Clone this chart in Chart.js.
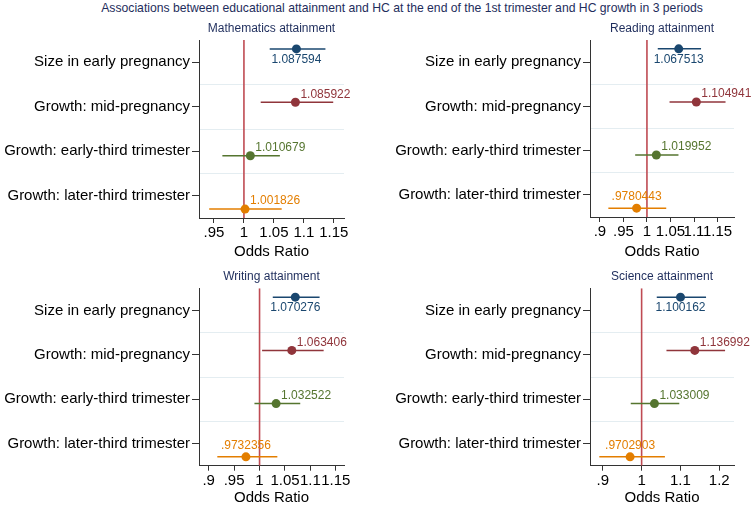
<!DOCTYPE html>
<html>
<head>
<meta charset="utf-8">
<script src="https://cdn.jsdelivr.net/npm/chart.js@4.4.1/dist/chart.umd.min.js"></script>
<style>
  body { margin: 0; background: #fff; }
  #wrap { position: relative; width: 751px; height: 505px; overflow: hidden; font-family: "Liberation Sans", Arial, sans-serif; }
  #main-title { position: absolute; top: 1px; left: 52px; width: 700px; text-align: center; font-size: 12.2px; line-height: 14px; color: #1e2d5c; white-space: nowrap; }
  canvas { position: absolute; }
</style>
</head>
<body>
<div id="wrap">
  <div id="main-title">Associations between educational attainment and HC at the end of the 1st trimester and HC growth in 3 periods</div>
  <canvas id="c-math" width="375" height="239" style="left:0;top:20px"></canvas>
  <canvas id="c-read" width="376" height="239" style="left:375px;top:20px"></canvas>
  <canvas id="c-write" width="375" height="245" style="left:0;top:260px"></canvas>
  <canvas id="c-sci" width="376" height="245" style="left:375px;top:260px"></canvas>
</div>
<script>
'use strict';

// Rows and where each series sits inside its row
const rows = ['Size in early pregnancy', 'Growth: mid-pregnancy', 'Growth: early-third trimester', 'Growth: later-third trimester'];
const rowPos = [0.7, 1.9, 3.1, 4.3];
const rowTicks = [1, 2, 3, 4];
const rowGrid = [1.5, 2.5, 3.5];

// Odds ratios and 95% CI
const mathEst = [1.087594, 1.085922, 1.010679, 1.001826];
const mathLo = [1.043, 1.028, 0.964, 0.942];
const mathHi = [1.136, 1.149, 1.060, 1.063];

const readEst = [1.067513, 1.104941, 1.019952, 0.9780443];
const readLo = [1.023, 1.048, 0.975, 0.918];
const readHi = [1.115, 1.167, 1.067, 1.041];

const writeEst = [1.070276, 1.063406, 1.032522, 0.9732356];
const writeLo = [1.026, 1.005, 0.990, 0.917];
const writeHi = [1.118, 1.126, 1.080, 1.035];

const sciEst = [1.100162, 1.136992, 1.033009, 0.9702903];
const sciLo = [1.039, 1.064, 0.972, 0.891];
const sciHi = [1.166, 1.215, 1.097, 1.060];

// Tick labels of the x axes
const mathTicks = [0.95, 1, 1.05, 1.1, 1.15];
const readTicks = [0.9, 0.95, 1, 1.05, 1.1, 1.15];
const writeTicks = [0.9, 0.95, 1, 1.05, 1.1, 1.15];
const sciTicks = [0.9, 1, 1.1, 1.2];

const colors = ['#1a476f', '#90353b', '#55752f', '#e37e00'];
const FONT = '"Liberation Sans", Arial, sans-serif';

// Stata style number: no leading zero
const fmt = (v) => {
  let s = String(v);
  if (s.startsWith('0.')) s = s.slice(1);
  return s;
};

// Value labels next to the points
const valueLabels = {
  id: 'valueLabels',
  afterDatasetsDraw(chart, args, opts) {
    const meta = chart.getDatasetMeta(0);
    const ctx = chart.ctx;
    ctx.save();
    ctx.font = '12px ' + FONT;
    ctx.textBaseline = 'middle';
    meta.data.forEach((pt, i) => {
      const text = fmt(opts.values[i]);
      const pos = opts.positions[i];
      ctx.fillStyle = colors[i];
      if (pos === 'below') {
        ctx.textAlign = 'center';
        ctx.fillText(text, pt.x, pt.y + 11);
      } else if (pos === 'above') {
        ctx.textAlign = 'center';
        ctx.fillText(text, pt.x, pt.y - 11);
      } else {
        ctx.textAlign = 'left';
        ctx.fillText(text, pt.x + 5, pt.y - 8);
      }
    });
    ctx.restore();
  }
};

// Panel title centred over the plot region
const panelTitle = {
  id: 'panelTitle',
  afterDraw(chart, args, opts) {
    const { ctx, chartArea } = chart;
    ctx.save();
    ctx.font = '12px ' + FONT;
    ctx.fillStyle = '#1e2d5c';
    ctx.textAlign = 'center';
    ctx.textBaseline = 'middle';
    ctx.fillText(opts.text, (chartArea.left + chartArea.right) / 2, chartArea.top - 11.5);
    ctx.restore();
  }
};

const makePanel = (id, p) => {
  const ciSets = p.est.map((e, i) => ({
    data: [{ x: p.lo[i], y: rowPos[i] }, { x: p.hi[i], y: rowPos[i] }],
    showLine: true,
    borderColor: colors[i],
    borderWidth: 1.5,
    pointRadius: 0,
    yAxisID: 'y',
    order: 1
  }));

  return new Chart(document.getElementById(id), {
    type: 'scatter',
    data: {
      datasets: [
        {
          data: p.est.map((e, i) => ({ x: e, y: rowPos[i] })),
          pointRadius: 4.5,
          pointBackgroundColor: colors,
          pointBorderColor: colors,
          pointBorderWidth: 0,
          yAxisID: 'y',
          order: 0
        },
        ...ciSets,
        {
          data: [{ x: 1, y: 0.5 }, { x: 1, y: 4.5 }],
          showLine: true,
          borderColor: '#bf4b53',
          borderWidth: 1.6,
          pointRadius: 0,
          yAxisID: 'y',
          order: 2
        }
      ]
    },
    options: {
      responsive: false,
      animation: false,
      layout: { padding: { left: 0, right: p.padRight, top: p.padTop, bottom: 0 } },
      scales: {
        x: {
          type: 'linear',
          min: p.xMin,
          max: p.xMax,
          afterBuildTicks: (s) => { s.ticks = p.xTicks.map(v => ({ value: v })); },
          afterFit: (s) => { s.height = p.xAxisHeight; },
          ticks: {
            callback: (v) => fmt(v),
            autoSkip: false,
            maxRotation: 0,
            padding: 1,
            color: '#000',
            font: { family: FONT, size: 15 }
          },
          grid: { drawOnChartArea: false, tickLength: 5, color: '#333' },
          border: { color: '#333', width: 1 },
          title: {
            display: true,
            text: 'Odds Ratio',
            color: '#000',
            padding: 0,
            font: { family: FONT, size: 15, lineHeight: 1 }
          }
        },
        y: {
          type: 'linear',
          min: 0.5,
          max: 4.5,
          reverse: true,
          afterBuildTicks: (s) => { s.ticks = rowTicks.map(v => ({ value: v })); },
          afterFit: (s) => { s.width = p.yAxisWidth; },
          ticks: {
            callback: (v) => rows[v - 1],
            autoSkip: false,
            padding: 2,
            color: '#000',
            font: { family: FONT, size: 15 }
          },
          grid: { drawOnChartArea: false, tickLength: 7, color: '#333' },
          border: { color: '#333', width: 1 }
        },
        yg: {
          type: 'linear',
          position: 'left',
          min: 0.5,
          max: 4.5,
          reverse: true,
          afterBuildTicks: (s) => { s.ticks = rowGrid.map(v => ({ value: v })); },
          afterFit: (s) => { s.width = 0; },
          ticks: { display: false },
          grid: { drawTicks: false, color: '#e4edf1', lineWidth: 1 },
          border: { display: false }
        }
      },
      plugins: {
        legend: { display: false },
        tooltip: { enabled: false },
        title: { display: false },
        panelTitle: { text: p.title },
        valueLabels: { values: p.est, positions: p.labelPos }
      }
    },
    plugins: [valueLabels, panelTitle]
  });
};

makePanel('c-math', {
  title: 'Mathematics attainment',
  est: mathEst, lo: mathLo, hi: mathHi,
  xMin: 0.925, xMax: 1.167, xTicks: mathTicks,
  labelPos: ['below', 'right', 'right', 'right'],
  yAxisWidth: 199, padRight: 31, xAxisHeight: 41, padTop: 20
});

makePanel('c-read', {
  title: 'Reading attainment',
  est: readEst, lo: readLo, hi: readHi,
  xMin: 0.879, xMax: 1.185, xTicks: readTicks,
  labelPos: ['below', 'right', 'right', 'above'],
  yAxisWidth: 215, padRight: 17, xAxisHeight: 42, padTop: 20
});

makePanel('c-write', {
  title: 'Writing attainment',
  est: writeEst, lo: writeLo, hi: writeHi,
  xMin: 0.881, xMax: 1.166, xTicks: writeTicks,
  labelPos: ['below', 'right', 'right', 'above'],
  yAxisWidth: 199, padRight: 31, xAxisHeight: 39.3, padTop: 28.3
});

makePanel('c-sci', {
  title: 'Science attainment',
  est: sciEst, lo: sciLo, hi: sciHi,
  xMin: 0.867, xMax: 1.238, xTicks: sciTicks,
  labelPos: ['below', 'right', 'right', 'above'],
  yAxisWidth: 215, padRight: 17, xAxisHeight: 39.3, padTop: 28.3
});
</script>
</body>
</html>
